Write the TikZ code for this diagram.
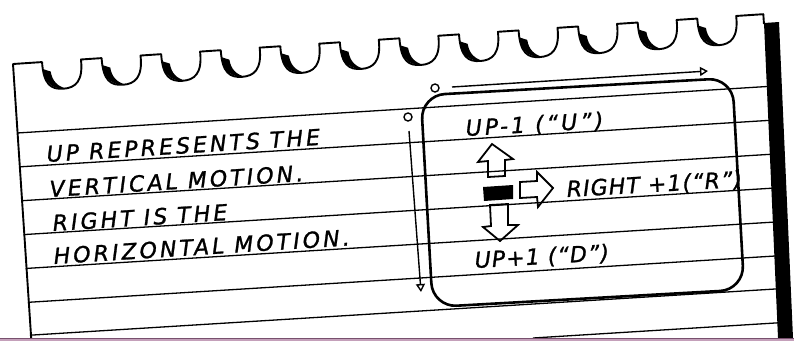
\documentclass[tikz,border=0pt]{standalone}
\usepackage{fontspec}
\newfontfamily\handfont[LetterSpace=14,FakeBold=1.2]{DejaVu Sans}
\newfontfamily\handtight[LetterSpace=5,FakeBold=1.2]{DejaVu Sans}
\usetikzlibrary{arrows.meta}
\definecolor{bandpink}{RGB}{196,160,186}
\definecolor{bandline}{RGB}{120,80,110}
\begin{document}
\begin{tikzpicture}[x=1pt,y=-1pt,
  rule/.style={line width=1.3pt},
  edge/.style={line width=1.9pt, line join=round},
  hand/.style={font=\handfont\itshape\fontsize{22}{26}\selectfont, inner sep=0pt, anchor=base west},
  handt/.style={font=\handtight\itshape\fontsize{22}{26}\selectfont, inner sep=0pt, anchor=base west},
  blockarrow/.style={line width=1.8pt, line join=miter},
  origin/.style={circle, draw, line width=1.4pt, minimum size=8pt, inner sep=0pt},
  axis/.style={line width=1.4pt, -{Triangle[open,length=8pt,width=9pt,line width=1.4pt]}}
]
\useasboundingbox (0,0) rectangle (794,341);
\fill[white] (0,0) rectangle (794,341);

% ruled lines
\foreach \y in {133,167,201,235,269,303,336} {
  \pgfmathsetmacro\xl{13+0.062*(\y-64)}
  \pgfmathsetmacro\yl{\y-0.062*(\xl-17)}
  \pgfmathsetmacro\yr{\y-0.062*(780-17)}
  \draw[rule] (\xl,\yl) -- (780,\yr);
}
\draw[rule] (533,338) -- (785,{370-0.062*768});

% paper edge with scallops
\begin{scope}[shift={(13,64)},rotate=3.8]
  \draw[edge] (0,276) -- (0,0) -- (29.1,0)
    \foreach \k in {0,...,11} {
      -- ({29.1+59.7*\k},0) .. controls +(0,23) and +(-12,0) .. ({29.1+59.7*\k+19.5},28)
      .. controls +(12,0) and +(1,22) .. ({29.1+59.7*\k+39},0)
    } -- (752,0) -- (752,10);
  \foreach \k in {0,...,11} {
    \pgfmathsetmacro\s{29.1+59.7*\k}
    \fill ({\s+0.3},7) .. controls ({\s+1},21) and ({\s+9},28) .. ({\s+22},28)
      .. controls ({\s+14},25) and ({\s+9},20) .. ({\s+8},10) -- cycle;
  }
\end{scope}

% shadow bar on the right
\fill (764,23) -- (779,22) -- (793,338) -- (778,338) -- cycle;

% frame
\begin{scope}[shift={(582.5,192.5)},rotate=3.2]
  \draw[line width=2.6pt, rounded corners=24pt] (-156,-106) rectangle (156,106);
\end{scope}

% axes
\node[origin] (ox) at (435,88) {};
\coordinate (xs) at (452,87);
\coordinate (xe) at (708,71);
\draw[axis] (xs) -- (xe);
\node[origin] (oy) at (408,117) {};
\coordinate (ys) at (409,131);
\coordinate (ye) at (421,292);
\draw[axis] (ys) -- (ye);

% left text
\node[hand, rotate=3.6] (l1) at (47,162) {UP REPRESENTS THE};
\node[hand, rotate=3.6] (l2) at (50,197) {VERTICAL MOTION.};
\node[hand, rotate=3.6] (l3) at (53,231) {RIGHT IS THE};
\node[hand, rotate=3.6] (l4) at (54,264) {HORIZONTAL MOTION.};

% box text
\node[hand, rotate=3.3] (tu) at (466,136) {UP-1 (“U”)};
\node[handt, rotate=3.3] (tr) at (567,197) {RIGHT +1(“R”)};
\node[handt, rotate=3.3] (td) at (475,268) {UP+1 (“D”)};

% block arrows and the sprite
\draw[blockarrow] (488,177) -- (488,161) -- (478,162) -- (492,144) -- (513,159) -- (505,160) -- (505,176) -- cycle;
\fill (483,187) -- (513,185) -- (513,199) -- (484,201) -- cycle;
\draw[blockarrow] (520,182) -- (537,181) -- (537,172) -- (553,188) -- (538,207) -- (537,197) -- (520,198) -- cycle;
\draw[blockarrow] (490,205) -- (491,226) -- (483,227) -- (500,241) -- (518,225) -- (508,225) -- (508,204) -- cycle;

% bottom band
\fill[bandpink] (0,338.5) rectangle (794,341);
\draw[bandline, line width=1pt] (0,338.5) -- (794,338.5);
\end{tikzpicture}
\end{document}
